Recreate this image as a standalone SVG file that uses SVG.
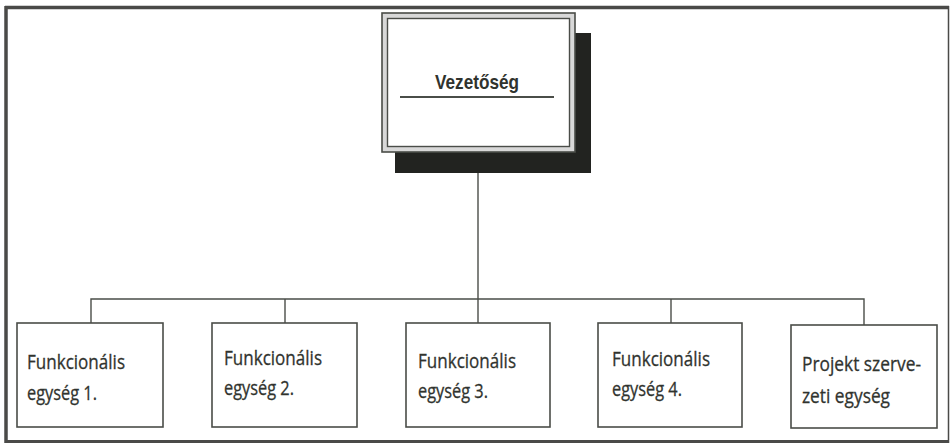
<svg xmlns="http://www.w3.org/2000/svg" width="950" height="446" viewBox="0 0 950 446">
<style>
.frame{stroke:#4a4a48;fill:none}
.box{fill:#fff;stroke:#4a4d48;stroke-width:1.6}
.conn{stroke:#4a4d48;stroke-width:1.4;fill:none}
.lbl{font-family:"Open Sans","Noto Sans",sans-serif;font-size:20px;fill:#30332e;stroke:#30332e;stroke-width:0.3}
.title{font-family:"Liberation Sans",Arial,sans-serif;font-weight:bold;font-size:21px;fill:#30332e}
</style>
<rect width="950" height="446" fill="#fff"/>
<g id="frame">
<line class="frame" x1="6" y1="6" x2="6" y2="443" stroke-width="3.5"/>
<line class="frame" x1="5" y1="7.5" x2="949" y2="7.5" stroke-width="3.5"/>
<line class="frame" x1="5" y1="441.5" x2="949" y2="441.5" stroke-width="3"/>
<line class="frame" x1="948.5" y1="6" x2="948.5" y2="443" stroke-width="1.5"/>
</g>
<g id="connectors">
<line class="conn" x1="478" y1="172" x2="478" y2="323"/>
<polyline class="conn" points="91,323 91,299 864,299 864,325"/>
<line class="conn" x1="285" y1="299" x2="285" y2="323"/>
<line class="conn" x1="671" y1="299" x2="671" y2="323"/>
</g>
<g id="vezetoseg">
<rect x="395" y="33" width="196" height="140" fill="#222320"/>
<rect x="382" y="13" width="193" height="139" fill="#d8d8d8" stroke="#4a4d48" stroke-width="1.6"/>
<rect x="387.5" y="18.5" width="182" height="128" fill="#fff" stroke="#4a4d48" stroke-width="1.4"/>
<text class="title" x="477" y="89" text-anchor="middle" textLength="84" lengthAdjust="spacingAndGlyphs">Vezetőség</text>
<line x1="400" y1="97" x2="554" y2="97" stroke="#4a4d48" stroke-width="1.8"/>
</g>
<g id="egyseg1">
<rect class="box" x="17" y="323" width="146" height="104"/>
<text class="lbl" x="27" y="369" textLength="98" lengthAdjust="spacingAndGlyphs">Funkcionális</text>
<text class="lbl" x="27" y="400" textLength="70" lengthAdjust="spacingAndGlyphs">egység 1.</text>
</g>
<g id="egyseg2">
<rect class="box" x="212" y="323" width="145" height="104"/>
<text class="lbl" x="224" y="365" textLength="98" lengthAdjust="spacingAndGlyphs">Funkcionális</text>
<text class="lbl" x="224" y="395" textLength="70" lengthAdjust="spacingAndGlyphs">egység 2.</text>
</g>
<g id="egyseg3">
<rect class="box" x="406" y="323" width="144" height="104"/>
<text class="lbl" x="418" y="368" textLength="98" lengthAdjust="spacingAndGlyphs">Funkcionális</text>
<text class="lbl" x="418" y="398" textLength="70" lengthAdjust="spacingAndGlyphs">egység 3.</text>
</g>
<g id="egyseg4">
<rect class="box" x="598" y="323" width="144" height="104"/>
<text class="lbl" x="612" y="366" textLength="98" lengthAdjust="spacingAndGlyphs">Funkcionális</text>
<text class="lbl" x="612" y="396" textLength="70" lengthAdjust="spacingAndGlyphs">egység 4.</text>
</g>
<g id="projekt">
<rect class="box" x="791" y="325" width="146" height="103"/>
<text class="lbl" x="802" y="371" textLength="119" lengthAdjust="spacingAndGlyphs">Projekt szerve-</text>
<text class="lbl" x="802" y="403" textLength="88" lengthAdjust="spacingAndGlyphs">zeti egység</text>
</g>
</svg>
